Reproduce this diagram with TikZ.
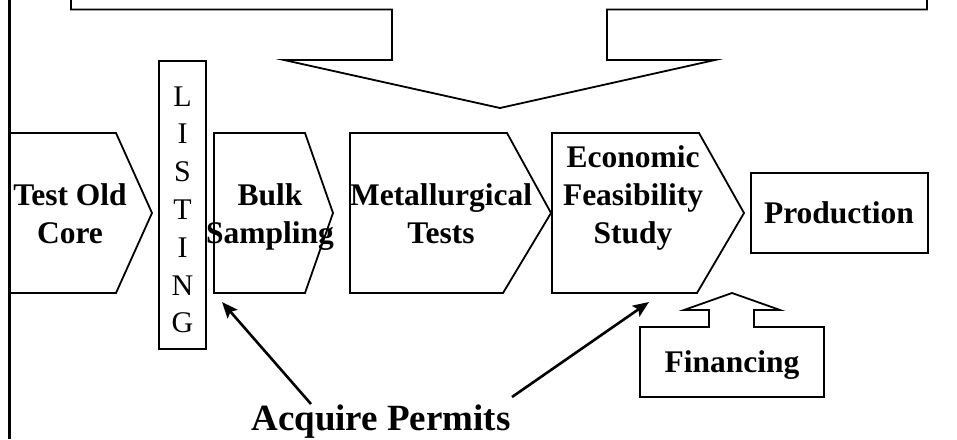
\documentclass[tikz,border=0pt]{standalone}
\usepackage{fontspec}
\setmainfont{Liberation Serif}
\usetikzlibrary{arrows.meta}
\newcommand{\mlines}[1]{\begin{tabular}[t]{@{}c@{}}#1\end{tabular}}
\tikzset{
  outline/.style={draw=black,line width=1.8pt,line join=miter},
  lbl/.style={anchor=base,inner sep=0pt,font=\fontsize{31.5}{38}\selectfont\bfseries},
  permit/.style={line width=2.6pt,-{Stealth[length=16pt,width=13pt,inset=3pt]}}
}
\begin{document}
\begin{tikzpicture}[x=1pt,y=-1pt]
\useasboundingbox (0,0) rectangle (957,439);
% left border
\draw[line width=3pt] (9,0) -- (9,439);
% top callout
\draw[outline] (71,0) -- (71,9.5) -- (392,9.5) -- (392,60) -- (284,60) -- (500,108) -- (715,60) -- (607,60) -- (607,9.5) -- (927,9.5) -- (927,0);
% chevrons
\draw[outline] (9,133) -- (116,133) -- (152,213) -- (116,293) -- (9,293);
\draw[outline] (159,61) rectangle (206,349);
\draw[outline] (214,133) -- (305,133) -- (333,213) -- (305,293) -- (214,293) -- cycle;
\draw[outline] (350,133) -- (507,133) -- (551,213) -- (503,293) -- (350,293) -- cycle;
\draw[outline] (552,133) -- (699,133) -- (744,213) -- (697,293) -- (552,293) -- cycle;
\draw[outline] (751,173) rectangle (928,253);
\draw[outline] (640,327) -- (709,327) -- (709,310) -- (684,310) -- (732,293) -- (780,310) -- (754,310) -- (754,327) -- (824,327) -- (824,397) -- (640,397) -- cycle;
% texts
\node[lbl] (core) at (70,205) {\mlines{Test Old\\Core}};
\node[anchor=base,inner sep=0pt,font=\fontsize{30}{37.8}\selectfont] (listing) at (182.5,106) {\mlines{L\\I\\S\\T\\I\\N\\G}};
\node[lbl] (bulk) at (270,205) {\mlines{Bulk\\Sampling}};
\node[lbl] (metal) at (441,205) {\mlines{Metallurgical\\Tests}};
\node[lbl] (econ) at (633,167) {\mlines{Economic\\Feasibility\\Study}};
\node[lbl] (prod) at (839,223) {Production};
\node[lbl] (fin) at (732,372) {Financing};
\node[anchor=base,inner sep=0pt,font=\fontsize{37}{44}\selectfont\bfseries] (permits) at (381,430) {Acquire Permits};
% arrows
\coordinate (p1s) at (311,404);
\coordinate (p1e) at (222,302);
\coordinate (p2s) at (512,397);
\coordinate (p2e) at (649,302);
\draw[permit] (p1s) -- (p1e);
\draw[permit] (p2s) -- (p2e);
\end{tikzpicture}
\end{document}
